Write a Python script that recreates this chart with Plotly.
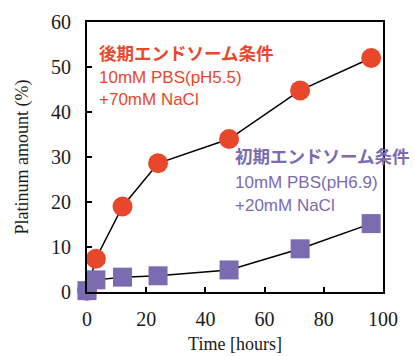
import plotly.graph_objects as go

hours = [0, 3, 12, 24, 48, 72, 96]
late_endosome = [0.3, 7.4, 19.0, 28.6, 34.0, 44.8, 52.0]
early_endosome = [0.3, 2.7, 3.3, 3.6, 4.9, 9.6, 15.2]
late_err = [0, 0, 0, 0, 0, 1.0, 0]
early_err = [0, 0, 0, 0, 0, 0, 0.6]

red = "#E8472C"
purple = "#7B6BB0"

fig = go.Figure()
fig.add_trace(go.Scatter(
    x=hours, y=late_endosome, mode="lines+markers",
    line=dict(color="black", width=1.5),
    marker=dict(symbol="circle", size=20, color=red),
    error_y=dict(type="data", array=late_err, color="black", thickness=1.5, width=6),
    cliponaxis=False, showlegend=False))
fig.add_trace(go.Scatter(
    x=hours, y=early_endosome, mode="lines+markers",
    line=dict(color="black", width=1.5),
    marker=dict(symbol="square", size=19, color=purple),
    error_y=dict(type="data", array=early_err, color="black", thickness=1.5, width=6),
    cliponaxis=False, showlegend=False))

serif = "Liberation Serif"
sans = "Liberation Sans, Noto Sans CJK JP"

fig.update_layout(
    width=415, height=356,
    margin=dict(l=87, r=32, t=22, b=64),
    paper_bgcolor="white", plot_bgcolor="white",
    xaxis=dict(range=[0, 100], tickvals=[0, 20, 40, 60, 80, 100], automargin=False,
               ticks="inside", ticklen=5, tickwidth=1.5, tickcolor="black",
               showline=True, linewidth=2, linecolor="black", mirror=True,
               showgrid=False, zeroline=False, ticklabelstandoff=8,
               tickfont=dict(family=serif, size=20, color="#1a1a1a"),
               title=dict(text="Time [hours]", font=dict(family=serif, size=18, color="#1a1a1a"), standoff=8)),
    yaxis=dict(range=[0, 60], tickvals=[0, 10, 20, 30, 40, 50, 60], automargin=False,
               ticks="inside", ticklen=5, tickwidth=1.5, tickcolor="black",
               showline=True, linewidth=2, linecolor="black", mirror=True,
               showgrid=False, zeroline=False, ticklabelstandoff=10,
               tickfont=dict(family=serif, size=20, color="#1a1a1a"),
               title=dict(text="Platinum amount (%)", font=dict(family=serif, size=18, color="#1a1a1a"), standoff=18)),
)

def txt(x, y, s, color, size):
    fig.add_annotation(x=x, y=y, xref="paper", yref="paper", text=s, showarrow=False,
                       xanchor="left", yanchor="middle",
                       font=dict(family=sans, size=size, color=color))

def px(xp): return (xp - 87) / (415 - 87 - 32)
def py(yp): return 1 - (yp - 22) / (356 - 22 - 64)

txt(px(97), py(54), "<b>後期エンドソーム条件</b>", red, 17.5)
txt(px(97), py(77), "10mM PBS(pH5.5)", red, 17)
txt(px(97), py(100), "+70mM NaCl", red, 17)
txt(px(233), py(157), "<b>初期エンドソーム条件</b>", purple, 17.5)
txt(px(233), py(182), "10mM PBS(pH6.9)", purple, 17)
txt(px(233), py(205), "+20mM NaCl", purple, 17)

fig.write_html("out.html")
